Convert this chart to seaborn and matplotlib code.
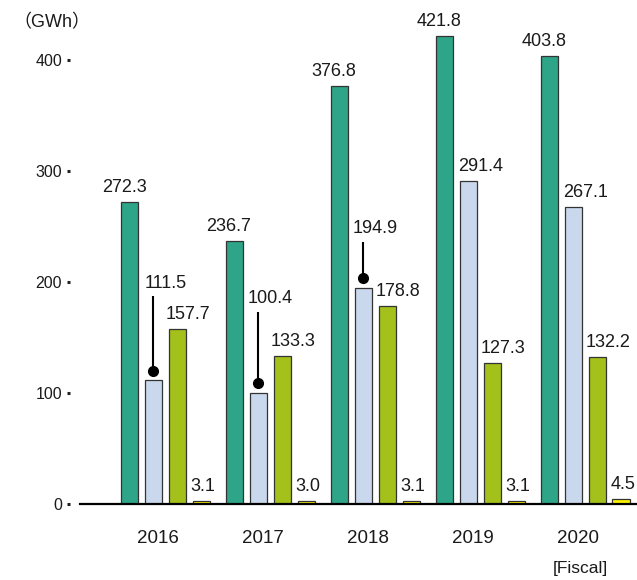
import matplotlib
matplotlib.use("Agg")
import matplotlib.pyplot as plt
import seaborn as sns
import pandas as pd

# Fiscal years and the four generation series (GWh)
years = ["2016", "2017", "2018", "2019", "2020"]
series_names = ["A", "B", "C", "D"]
series_a = [272.3, 236.7, 376.8, 421.8, 403.8]
series_b = [111.5, 100.4, 194.9, 291.4, 267.1]
series_c = [157.7, 133.3, 178.8, 127.3, 132.2]
series_d = [3.1, 3.0, 3.1, 3.1, 4.5]
y_ticks = [0, 100, 200, 300, 400]

colors = ["#2ea488", "#c9d8ec", "#a3c01b", "#fff200"]
# horizontal nudge (pixels) of the value labels for each series
label_dx = {"A": -5, "B": 13, "C": 11, "D": 2}

sns.set_style("white")
plt.rcParams["font.family"] = ["Liberation Sans", "Noto Sans CJK JP", "DejaVu Sans"]

rows = []
for name, vals in zip(series_names, [series_a, series_b, series_c, series_d]):
    for yr, v in zip(years, vals):
        rows.append({"year": yr, "series": name, "value": v})
df = pd.DataFrame(rows)

fig = plt.figure(figsize=(6.37, 5.8), dpi=100)
ax = fig.add_axes([80 / 637, 76 / 580, 557 / 637, 494 / 580])

sns.barplot(data=df, x="year", y="value", hue="series", order=years,
            hue_order=series_names, palette=colors, width=0.914, gap=0.29,
            edgecolor="#333333", linewidth=0.9, errorbar=None, legend=False,
            saturation=1, ax=ax)

ax.set_xlim(-0.81, 4.495)
ax.set_ylim(0, 445)

# Axes styling
for s in ["top", "right"]:
    ax.spines[s].set_visible(False)
ax.spines["left"].set_position(("outward", 7.2))
ax.spines["left"].set_visible(False)
ax.spines["bottom"].set_linewidth(1.6)
ax.spines["bottom"].set_color("black")
ax.set_yticks(y_ticks)
ax.set_yticklabels([str(t) for t in y_ticks])
ax.tick_params(axis="y", left=True, length=2.2, width=2.2, direction="out",
               color="#222222", pad=3.6, labelsize=11.5, labelcolor="#1a1a1a")
ax.set_xticks([i - 7 / 105 for i in range(len(years))])
ax.set_xticklabels(years)
ax.tick_params(axis="x", bottom=False, length=0, pad=18.5, labelsize=13.5,
               labelcolor="#1a1a1a")
ax.set_xlabel("")
ax.set_ylabel("")
ax.grid(False)

# Labels lifted above neighbouring bars with a leader line (text centre, data units)
leader_heights = {("B", "2016"): 199, ("B", "2017"): 185, ("B", "2018"): 248}

px_per_unit = (ax.transData.transform((0, 100))[1] - ax.transData.transform((0, 0))[1]) / 100

for name, container in zip(series_names, ax.containers):
    for yr, bar in zip(years, container):
        h = bar.get_height()
        cx = bar.get_x() + bar.get_width() / 2
        key = (name, yr)
        if key in leader_heights:
            ty = leader_heights[key]
            ax.annotate(f"{h:.1f}", xy=(cx, ty), xytext=(12.5, 0),
                        textcoords="offset pixels", ha="center", va="center",
                        fontsize=13, color="#1a1a1a")
            dot_y = h + 9.5 / px_per_unit
            top_y = ty - 13 / px_per_unit
            ax.plot([cx, cx], [dot_y, top_y], color="black", lw=1.5,
                    solid_capstyle="butt")
            ax.plot([cx], [dot_y], marker="o", ms=7, color="black")
        else:
            ax.annotate(f"{h:.1f}", xy=(cx, h), xytext=(label_dx[name], 10),
                        textcoords="offset pixels", ha="center", va="baseline",
                        fontsize=13, color="#1a1a1a")

fig.text(13 / 637, 1 - 23 / 580, "（GWh）", ha="left", va="center",
         fontsize=13, color="#1a1a1a")
fig.text(580 / 637, 1 - 569 / 580, "[Fiscal]", ha="center", va="center",
         fontsize=12.5, color="#1a1a1a")

fig.savefig("out.png", dpi=100)
